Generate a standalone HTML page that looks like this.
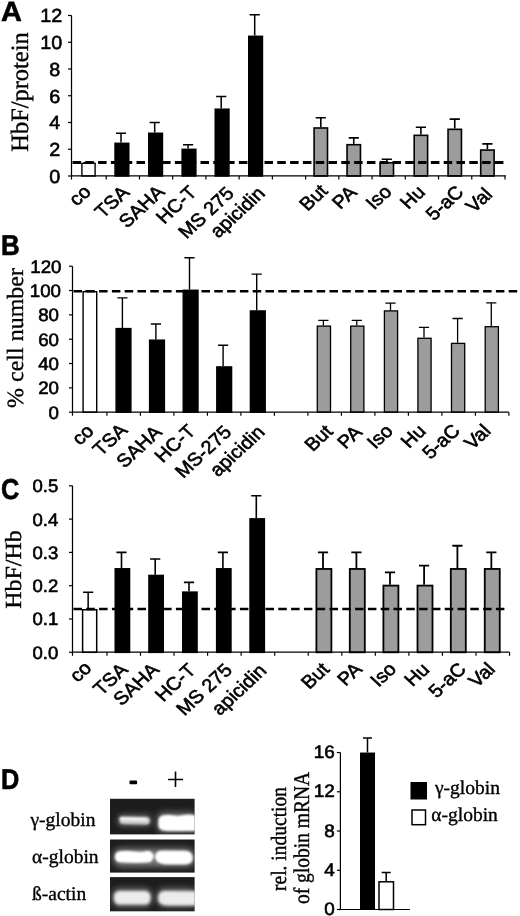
<!DOCTYPE html>
<html><head><meta charset="utf-8"><title>Figure</title>
<style>html,body{margin:0;padding:0;background:#fff}#fig{width:520px;height:916px;will-change:transform;overflow:hidden}svg{display:block;text-rendering:geometricPrecision;filter:blur(.4px)}text{stroke:#000;stroke-width:.6px}.f{stroke-width:.35px}.s{font-family:"Liberation Sans",sans-serif}.f{font-family:"Liberation Serif",serif}</style></head>
<body><div id="fig"><svg width="520" height="916" viewBox="0 0 520 916">
<rect width="520" height="916" fill="#fff"/>
<text transform="translate(1,21) scale(1.04,1)" class="s" font-weight="bold" font-size="27.8">A</text>
<text transform="translate(28.3,92) rotate(-90) scale(1,1.02)" text-anchor="middle" class="f" font-size="24.4">HbF/protein</text>
<path d="M88.50 162.62V162.62M83.40 162.62H93.60" stroke="#000" stroke-width="1.4" fill="none"/>
<rect x="81.90" y="163.32" width="13.20" height="12.68" fill="#fff" stroke="#000" stroke-width="1.4"/>
<path d="M121.00 142.56V133.20M115.90 133.20H126.10" stroke="#000" stroke-width="1.5" fill="none"/>
<rect x="115.05" y="143.31" width="13.70" height="32.69" fill="#000" stroke="#000" stroke-width="1.5"/>
<path d="M154.70 132.53V122.50M149.60 122.50H159.80" stroke="#000" stroke-width="1.5" fill="none"/>
<rect x="148.75" y="133.28" width="13.70" height="42.72" fill="#000" stroke="#000" stroke-width="1.5"/>
<path d="M188.10 148.58V144.84M183.00 144.84H193.20" stroke="#000" stroke-width="1.5" fill="none"/>
<rect x="182.15" y="149.33" width="13.70" height="26.67" fill="#000" stroke="#000" stroke-width="1.5"/>
<path d="M221.20 108.46V96.42M216.10 96.42H226.30" stroke="#000" stroke-width="1.5" fill="none"/>
<rect x="215.25" y="109.21" width="13.70" height="66.79" fill="#000" stroke="#000" stroke-width="1.5"/>
<path d="M254.70 35.56V14.83M249.60 14.83H259.80" stroke="#000" stroke-width="1.5" fill="none"/>
<rect x="248.75" y="36.31" width="13.70" height="139.69" fill="#000" stroke="#000" stroke-width="1.5"/>
<path d="M320.80 127.18V117.82M315.70 117.82H325.90" stroke="#000" stroke-width="1.6" fill="none"/>
<rect x="314.10" y="127.98" width="13.40" height="48.02" fill="#9c9c9c" stroke="#000" stroke-width="1.6"/>
<path d="M353.75 143.90V137.88M348.65 137.88H358.85" stroke="#000" stroke-width="1.6" fill="none"/>
<rect x="347.05" y="144.70" width="13.40" height="31.30" fill="#9c9c9c" stroke="#000" stroke-width="1.6"/>
<path d="M386.80 161.96V159.28M381.70 159.28H391.90" stroke="#000" stroke-width="1.6" fill="none"/>
<rect x="380.10" y="162.76" width="13.40" height="13.24" fill="#9c9c9c" stroke="#000" stroke-width="1.6"/>
<path d="M420.90 134.54V127.18M415.80 127.18H426.00" stroke="#000" stroke-width="1.6" fill="none"/>
<rect x="414.20" y="135.34" width="13.40" height="40.66" fill="#9c9c9c" stroke="#000" stroke-width="1.6"/>
<path d="M454.75 128.52V119.16M449.65 119.16H459.85" stroke="#000" stroke-width="1.6" fill="none"/>
<rect x="448.05" y="129.32" width="13.40" height="46.68" fill="#9c9c9c" stroke="#000" stroke-width="1.6"/>
<path d="M487.40 149.25V143.90M482.30 143.90H492.50" stroke="#000" stroke-width="1.6" fill="none"/>
<rect x="480.70" y="150.05" width="13.40" height="25.95" fill="#9c9c9c" stroke="#000" stroke-width="1.6"/>
<path d="M71.5 15.5V175.8H506" stroke="#000" stroke-width="1.25" fill="none"/>
<path d="M68.0 176.00H71.5" stroke="#000" stroke-width="1.2"/>
<text transform="translate(60.2,182.80) scale(1.04,1)" text-anchor="end" class="s" font-size="19">0</text>
<path d="M68.0 149.25H71.5" stroke="#000" stroke-width="1.2"/>
<text transform="translate(60.2,156.05) scale(1.04,1)" text-anchor="end" class="s" font-size="19">2</text>
<path d="M68.0 122.50H71.5" stroke="#000" stroke-width="1.2"/>
<text transform="translate(60.2,129.30) scale(1.04,1)" text-anchor="end" class="s" font-size="19">4</text>
<path d="M68.0 95.75H71.5" stroke="#000" stroke-width="1.2"/>
<text transform="translate(60.2,102.55) scale(1.04,1)" text-anchor="end" class="s" font-size="19">6</text>
<path d="M68.0 69.00H71.5" stroke="#000" stroke-width="1.2"/>
<text transform="translate(60.2,75.80) scale(1.04,1)" text-anchor="end" class="s" font-size="19">8</text>
<path d="M68.0 42.25H71.5" stroke="#000" stroke-width="1.2"/>
<text transform="translate(62.3,49.05) scale(1.04,1)" text-anchor="end" class="s" font-size="19">10</text>
<path d="M68.0 15.50H71.5" stroke="#000" stroke-width="1.2"/>
<text transform="translate(62.2,22.30) scale(1.04,1)" text-anchor="end" class="s" font-size="19">12</text>
<path d="M71.50 176V179.5" stroke="#000" stroke-width="1.2"/>
<path d="M106.23 176V179.5" stroke="#000" stroke-width="1.2"/>
<path d="M139.46 176V179.5" stroke="#000" stroke-width="1.2"/>
<path d="M172.69 176V179.5" stroke="#000" stroke-width="1.2"/>
<path d="M205.92 176V179.5" stroke="#000" stroke-width="1.2"/>
<path d="M239.15 176V179.5" stroke="#000" stroke-width="1.2"/>
<path d="M272.38 176V179.5" stroke="#000" stroke-width="1.2"/>
<path d="M305.61 176V179.5" stroke="#000" stroke-width="1.2"/>
<path d="M338.84 176V179.5" stroke="#000" stroke-width="1.2"/>
<path d="M372.07 176V179.5" stroke="#000" stroke-width="1.2"/>
<path d="M405.30 176V179.5" stroke="#000" stroke-width="1.2"/>
<path d="M438.53 176V179.5" stroke="#000" stroke-width="1.2"/>
<path d="M471.76 176V179.5" stroke="#000" stroke-width="1.2"/>
<path d="M504.99 176V179.5" stroke="#000" stroke-width="1.2"/>
<path d="M72.5 162.62H507" stroke="#000" stroke-width="3.0" stroke-dasharray="8.5 4.3" stroke-linecap="butt" fill="none"/>
<text transform="translate(92.00,193) scale(1.08,1) rotate(-45)" text-anchor="end" class="s" font-size="18.5">co</text>
<text transform="translate(130.40,193.5) scale(1.08,1) rotate(-45)" text-anchor="end" class="s" font-size="18.5">TSA</text>
<text transform="translate(165.60,193) scale(1.08,1) rotate(-45)" text-anchor="end" class="s" font-size="18.5">SAHA</text>
<text transform="translate(198.00,193.5) scale(1.08,1) rotate(-45)" text-anchor="end" class="s" font-size="18.5">HC-T</text>
<text transform="translate(235.10,194.5) scale(1.08,1) rotate(-45)" text-anchor="end" class="s" font-size="18.5">MS 275</text>
<text transform="translate(266.10,194.5) scale(1.08,1) rotate(-45)" text-anchor="end" class="s" font-size="18.5">apicidin</text>
<text transform="translate(328.80,192) scale(1.08,1) rotate(-45)" text-anchor="end" class="s" font-size="18.5">But</text>
<text transform="translate(358.00,193.5) scale(1.08,1) rotate(-45)" text-anchor="end" class="s" font-size="18.5">PA</text>
<text transform="translate(392.80,193) scale(1.08,1) rotate(-45)" text-anchor="end" class="s" font-size="18.5">Iso</text>
<text transform="translate(426.40,193.2) scale(1.08,1) rotate(-45)" text-anchor="end" class="s" font-size="18.5">Hu</text>
<text transform="translate(464.75,193.2) scale(1.08,1) rotate(-45)" text-anchor="end" class="s" font-size="18.5">5-aC</text>
<text transform="translate(493.40,195.5) scale(1.08,1) rotate(-45)" text-anchor="end" class="s" font-size="18.5">Val</text>
<text transform="translate(1,254.5) scale(0.9,1)" class="s" font-weight="bold" font-size="28.8">B</text>
<text transform="translate(23,338) rotate(-90) scale(1,0.97)" text-anchor="middle" class="f" font-size="24">% cell number</text>
<path d="M89.90 291.02V291.02M84.80 291.02H95.00" stroke="#000" stroke-width="1.4" fill="none"/>
<rect x="83.10" y="291.72" width="13.60" height="120.48" fill="#fff" stroke="#000" stroke-width="1.4"/>
<path d="M122.40 327.88V297.83M117.30 297.83H127.50" stroke="#000" stroke-width="1.4" fill="none"/>
<rect x="116.10" y="328.58" width="14.80" height="83.61" fill="#000" stroke="#000" stroke-width="1.4"/>
<path d="M155.90 339.44V323.99M150.80 323.99H161.00" stroke="#000" stroke-width="1.4" fill="none"/>
<rect x="149.60" y="340.14" width="14.80" height="72.06" fill="#000" stroke="#000" stroke-width="1.4"/>
<path d="M189.50 289.56V257.68M184.40 257.68H194.60" stroke="#000" stroke-width="1.4" fill="none"/>
<rect x="183.20" y="290.26" width="14.80" height="121.94" fill="#000" stroke="#000" stroke-width="1.4"/>
<path d="M223.10 366.21V345.28M218.00 345.28H228.20" stroke="#000" stroke-width="1.4" fill="none"/>
<rect x="216.80" y="366.91" width="14.80" height="45.29" fill="#000" stroke="#000" stroke-width="1.4"/>
<path d="M256.70 310.24V274.11M251.60 274.11H261.80" stroke="#000" stroke-width="1.4" fill="none"/>
<rect x="250.40" y="310.94" width="14.80" height="101.26" fill="#000" stroke="#000" stroke-width="1.4"/>
<path d="M323.40 325.45V320.34M318.30 320.34H328.50" stroke="#000" stroke-width="1.3" fill="none"/>
<rect x="317.30" y="326.10" width="13.20" height="86.10" fill="#9c9c9c" stroke="#000" stroke-width="1.3"/>
<path d="M356.80 325.45V320.34M351.70 320.34H361.90" stroke="#000" stroke-width="1.3" fill="none"/>
<rect x="350.70" y="326.10" width="13.20" height="86.10" fill="#9c9c9c" stroke="#000" stroke-width="1.3"/>
<path d="M390.50 310.24V303.06M385.40 303.06H395.60" stroke="#000" stroke-width="1.3" fill="none"/>
<rect x="384.40" y="310.89" width="13.20" height="101.31" fill="#9c9c9c" stroke="#000" stroke-width="1.3"/>
<path d="M424.00 337.62V327.40M418.90 327.40H429.10" stroke="#000" stroke-width="1.3" fill="none"/>
<rect x="417.90" y="338.27" width="13.20" height="73.93" fill="#9c9c9c" stroke="#000" stroke-width="1.3"/>
<path d="M457.60 342.73V318.52M452.50 318.52H462.70" stroke="#000" stroke-width="1.3" fill="none"/>
<rect x="451.50" y="343.38" width="13.20" height="68.82" fill="#9c9c9c" stroke="#000" stroke-width="1.3"/>
<path d="M491.30 326.06V302.94M486.20 302.94H496.40" stroke="#000" stroke-width="1.3" fill="none"/>
<rect x="485.20" y="326.71" width="13.20" height="85.49" fill="#9c9c9c" stroke="#000" stroke-width="1.3"/>
<path d="M72.5 266.2V412.0H508.75" stroke="#000" stroke-width="1.25" fill="none"/>
<path d="M69.0 412.20H72.5" stroke="#000" stroke-width="1.2"/>
<text transform="translate(59.0,418.64) scale(1.04,1)" text-anchor="end" class="s" font-size="18">0</text>
<path d="M69.0 387.87H72.5" stroke="#000" stroke-width="1.2"/>
<text transform="translate(59.0,394.31) scale(1.04,1)" text-anchor="end" class="s" font-size="18">20</text>
<path d="M69.0 363.53H72.5" stroke="#000" stroke-width="1.2"/>
<text transform="translate(59.0,369.98) scale(1.04,1)" text-anchor="end" class="s" font-size="18">40</text>
<path d="M69.0 339.20H72.5" stroke="#000" stroke-width="1.2"/>
<text transform="translate(59.0,345.64) scale(1.04,1)" text-anchor="end" class="s" font-size="18">60</text>
<path d="M69.0 314.87H72.5" stroke="#000" stroke-width="1.2"/>
<text transform="translate(59.0,321.31) scale(1.04,1)" text-anchor="end" class="s" font-size="18">80</text>
<path d="M69.0 290.53H72.5" stroke="#000" stroke-width="1.2"/>
<text transform="translate(61.0,296.98) scale(1.04,1)" text-anchor="end" class="s" font-size="18">100</text>
<path d="M69.0 266.20H72.5" stroke="#000" stroke-width="1.2"/>
<text transform="translate(61.5,272.64) scale(1.04,1)" text-anchor="end" class="s" font-size="18">120</text>
<path d="M72.50 412.2V415.7" stroke="#000" stroke-width="1.2"/>
<path d="M106.90 412.2V415.7" stroke="#000" stroke-width="1.2"/>
<path d="M140.40 412.2V415.7" stroke="#000" stroke-width="1.2"/>
<path d="M173.90 412.2V415.7" stroke="#000" stroke-width="1.2"/>
<path d="M207.40 412.2V415.7" stroke="#000" stroke-width="1.2"/>
<path d="M240.90 412.2V415.7" stroke="#000" stroke-width="1.2"/>
<path d="M274.40 412.2V415.7" stroke="#000" stroke-width="1.2"/>
<path d="M307.90 412.2V415.7" stroke="#000" stroke-width="1.2"/>
<path d="M341.40 412.2V415.7" stroke="#000" stroke-width="1.2"/>
<path d="M374.90 412.2V415.7" stroke="#000" stroke-width="1.2"/>
<path d="M408.40 412.2V415.7" stroke="#000" stroke-width="1.2"/>
<path d="M441.90 412.2V415.7" stroke="#000" stroke-width="1.2"/>
<path d="M475.40 412.2V415.7" stroke="#000" stroke-width="1.2"/>
<path d="M508.90 412.2V415.7" stroke="#000" stroke-width="1.2"/>
<path d="M73.5 291.26H520" stroke="#000" stroke-width="2.5" stroke-dasharray="8.5 4.3" stroke-linecap="butt" fill="none"/>
<text transform="translate(94.90,432.2) scale(1.08,1) rotate(-45)" text-anchor="end" class="s" font-size="18.5">co</text>
<text transform="translate(128.50,431.2) scale(1.08,1) rotate(-45)" text-anchor="end" class="s" font-size="18.5">TSA</text>
<text transform="translate(163.00,433.2) scale(1.08,1) rotate(-45)" text-anchor="end" class="s" font-size="18.5">SAHA</text>
<text transform="translate(196.60,432.2) scale(1.08,1) rotate(-45)" text-anchor="end" class="s" font-size="18.5">HC-T</text>
<text transform="translate(232.70,433.2) scale(1.08,1) rotate(-45)" text-anchor="end" class="s" font-size="18.5">MS-275</text>
<text transform="translate(265.80,433.2) scale(1.08,1) rotate(-45)" text-anchor="end" class="s" font-size="18.5">apicidin</text>
<text transform="translate(333.90,432.7) scale(1.08,1) rotate(-45)" text-anchor="end" class="s" font-size="18.5">But</text>
<text transform="translate(363.30,433.2) scale(1.08,1) rotate(-45)" text-anchor="end" class="s" font-size="18.5">PA</text>
<text transform="translate(394.00,432.2) scale(1.08,1) rotate(-45)" text-anchor="end" class="s" font-size="18.5">Iso</text>
<text transform="translate(427.00,432.2) scale(1.08,1) rotate(-45)" text-anchor="end" class="s" font-size="18.5">Hu</text>
<text transform="translate(461.10,431.7) scale(1.08,1) rotate(-45)" text-anchor="end" class="s" font-size="18.5">5-aC</text>
<text transform="translate(491.80,432.2) scale(1.08,1) rotate(-45)" text-anchor="end" class="s" font-size="18.5">Val</text>
<text transform="translate(1,498.5) scale(0.88,1)" class="s" font-weight="bold" font-size="28.8">C</text>
<text transform="translate(21.4,569.5) rotate(-90) scale(1,0.96)" text-anchor="middle" class="f" font-size="24">HbF/Hb</text>
<path d="M88.15 609.01V592.36M83.05 592.36H93.25" stroke="#000" stroke-width="1.5" fill="none"/>
<rect x="82.60" y="609.76" width="14.10" height="42.54" fill="#fff" stroke="#000" stroke-width="1.5"/>
<path d="M121.50 568.05V552.40M116.40 552.40H126.60" stroke="#000" stroke-width="1.6" fill="none"/>
<rect x="115.30" y="568.85" width="14.20" height="83.45" fill="#000" stroke="#000" stroke-width="1.6"/>
<path d="M155.20 574.71V559.06M150.10 559.06H160.30" stroke="#000" stroke-width="1.6" fill="none"/>
<rect x="149.00" y="575.51" width="14.20" height="76.79" fill="#000" stroke="#000" stroke-width="1.6"/>
<path d="M189.00 591.36V582.37M183.90 582.37H194.10" stroke="#000" stroke-width="1.6" fill="none"/>
<rect x="182.80" y="592.16" width="14.20" height="60.14" fill="#000" stroke="#000" stroke-width="1.6"/>
<path d="M222.90 568.05V552.40M217.80 552.40H228.00" stroke="#000" stroke-width="1.6" fill="none"/>
<rect x="216.70" y="568.85" width="14.20" height="83.45" fill="#000" stroke="#000" stroke-width="1.6"/>
<path d="M256.30 518.10V495.79M251.20 495.79H261.40" stroke="#000" stroke-width="1.6" fill="none"/>
<rect x="250.10" y="518.90" width="14.20" height="133.40" fill="#000" stroke="#000" stroke-width="1.6"/>
<path d="M323.00 568.05V552.40M317.90 552.40H328.10" stroke="#000" stroke-width="1.8" fill="none"/>
<rect x="316.40" y="568.95" width="15.00" height="83.35" fill="#9c9c9c" stroke="#000" stroke-width="1.8"/>
<path d="M356.40 568.05V552.40M351.30 552.40H361.50" stroke="#000" stroke-width="1.8" fill="none"/>
<rect x="349.80" y="568.95" width="15.00" height="83.35" fill="#9c9c9c" stroke="#000" stroke-width="1.8"/>
<path d="M390.00 584.70V572.38M384.90 572.38H395.10" stroke="#000" stroke-width="1.8" fill="none"/>
<rect x="383.40" y="585.60" width="15.00" height="66.70" fill="#9c9c9c" stroke="#000" stroke-width="1.8"/>
<path d="M424.10 584.70V565.72M419.00 565.72H429.20" stroke="#000" stroke-width="1.8" fill="none"/>
<rect x="417.50" y="585.60" width="15.00" height="66.70" fill="#9c9c9c" stroke="#000" stroke-width="1.8"/>
<path d="M457.40 568.05V545.74M452.30 545.74H462.50" stroke="#000" stroke-width="1.8" fill="none"/>
<rect x="450.80" y="568.95" width="15.00" height="83.35" fill="#9c9c9c" stroke="#000" stroke-width="1.8"/>
<path d="M491.35 568.05V552.40M486.25 552.40H496.45" stroke="#000" stroke-width="1.8" fill="none"/>
<rect x="484.75" y="568.95" width="15.00" height="83.35" fill="#9c9c9c" stroke="#000" stroke-width="1.8"/>
<path d="M72.5 485.8V652.0999999999999H509.5" stroke="#000" stroke-width="1.25" fill="none"/>
<path d="M69.0 652.30H72.5" stroke="#000" stroke-width="1.2"/>
<text transform="translate(58.3,658.74) scale(1.03,1)" text-anchor="end" class="s" font-size="18">0.0</text>
<path d="M69.0 619.00H72.5" stroke="#000" stroke-width="1.2"/>
<text transform="translate(58.3,625.44) scale(1.03,1)" text-anchor="end" class="s" font-size="18">0.1</text>
<path d="M69.0 585.70H72.5" stroke="#000" stroke-width="1.2"/>
<text transform="translate(58.3,592.14) scale(1.03,1)" text-anchor="end" class="s" font-size="18">0.2</text>
<path d="M69.0 552.40H72.5" stroke="#000" stroke-width="1.2"/>
<text transform="translate(58.3,558.84) scale(1.03,1)" text-anchor="end" class="s" font-size="18">0.3</text>
<path d="M69.0 519.10H72.5" stroke="#000" stroke-width="1.2"/>
<text transform="translate(58.3,525.54) scale(1.03,1)" text-anchor="end" class="s" font-size="18">0.4</text>
<path d="M69.0 485.80H72.5" stroke="#000" stroke-width="1.2"/>
<text transform="translate(58.3,492.24) scale(1.03,1)" text-anchor="end" class="s" font-size="18">0.5</text>
<path d="M72.50 652.3V655.8" stroke="#000" stroke-width="1.2"/>
<path d="M106.95 652.3V655.8" stroke="#000" stroke-width="1.2"/>
<path d="M140.50 652.3V655.8" stroke="#000" stroke-width="1.2"/>
<path d="M174.05 652.3V655.8" stroke="#000" stroke-width="1.2"/>
<path d="M207.60 652.3V655.8" stroke="#000" stroke-width="1.2"/>
<path d="M241.15 652.3V655.8" stroke="#000" stroke-width="1.2"/>
<path d="M274.70 652.3V655.8" stroke="#000" stroke-width="1.2"/>
<path d="M308.25 652.3V655.8" stroke="#000" stroke-width="1.2"/>
<path d="M341.80 652.3V655.8" stroke="#000" stroke-width="1.2"/>
<path d="M375.35 652.3V655.8" stroke="#000" stroke-width="1.2"/>
<path d="M408.90 652.3V655.8" stroke="#000" stroke-width="1.2"/>
<path d="M442.45 652.3V655.8" stroke="#000" stroke-width="1.2"/>
<path d="M476.00 652.3V655.8" stroke="#000" stroke-width="1.2"/>
<path d="M509.55 652.3V655.8" stroke="#000" stroke-width="1.2"/>
<path d="M73.5 609.01H506" stroke="#000" stroke-width="2.5" stroke-dasharray="8.5 4.3" stroke-linecap="butt" fill="none"/>
<text transform="translate(92.65,669.3) scale(1.08,1) rotate(-45)" text-anchor="end" class="s" font-size="18.5">co</text>
<text transform="translate(128.90,670.8) scale(1.08,1) rotate(-45)" text-anchor="end" class="s" font-size="18.5">TSA</text>
<text transform="translate(160.10,670.8) scale(1.08,1) rotate(-45)" text-anchor="end" class="s" font-size="18.5">SAHA</text>
<text transform="translate(196.90,671.3) scale(1.08,1) rotate(-45)" text-anchor="end" class="s" font-size="18.5">HC-T</text>
<text transform="translate(233.30,671.3) scale(1.08,1) rotate(-45)" text-anchor="end" class="s" font-size="18.5">MS 275</text>
<text transform="translate(267.70,671.8) scale(1.08,1) rotate(-45)" text-anchor="end" class="s" font-size="18.5">apicidin</text>
<text transform="translate(330.40,670.3) scale(1.08,1) rotate(-45)" text-anchor="end" class="s" font-size="18.5">But</text>
<text transform="translate(363.30,670.3) scale(1.08,1) rotate(-45)" text-anchor="end" class="s" font-size="18.5">PA</text>
<text transform="translate(397.40,670.3) scale(1.08,1) rotate(-45)" text-anchor="end" class="s" font-size="18.5">Iso</text>
<text transform="translate(430.50,670.5999999999999) scale(1.08,1) rotate(-45)" text-anchor="end" class="s" font-size="18.5">Hu</text>
<text transform="translate(467.30,670.3) scale(1.08,1) rotate(-45)" text-anchor="end" class="s" font-size="18.5">5-aC</text>
<text transform="translate(496.25,670.3) scale(1.08,1) rotate(-45)" text-anchor="end" class="s" font-size="18.5">Val</text>
<text transform="translate(1,789) scale(0.88,1)" class="s" font-weight="bold" font-size="28.8">D</text>
<rect x="129.5" y="780.6" width="7.6" height="3.6" rx="0.8" fill="#000"/>
<path d="M168 779.5H183M175.5 771.5V787" stroke="#000" stroke-width="1.6" fill="none"/>
<text x="30.5" y="826" class="f" font-size="19.5">γ-globin</text>
<text x="32" y="863" class="f" font-size="19.5">α-globin</text>
<text x="32" y="900" class="f" font-size="19.5">ß-actin</text>
<defs><filter id="bl" x="-10%" y="-40%" width="120%" height="180%"><feGaussianBlur stdDeviation="0.9"/></filter><filter id="bl2" x="-10%" y="-40%" width="120%" height="180%"><feGaussianBlur stdDeviation="1.5"/></filter><filter id="gl" x="-20%" y="-80%" width="140%" height="260%"><feGaussianBlur stdDeviation="3"/></filter><clipPath id="g1"><rect x="110" y="798.8" width="84.6" height="35.6"/></clipPath><clipPath id="g2"><rect x="110" y="839.5" width="84.6" height="33.1"/></clipPath><clipPath id="g3"><rect x="110" y="877.1" width="84.6" height="34.2"/></clipPath></defs>
<rect x="110" y="798.8" width="84.6" height="35.60" fill="#1d1d1d"/>
<rect x="110" y="839.5" width="84.6" height="33.10" fill="#1d1d1d"/>
<rect x="110" y="877.1" width="84.6" height="34.20" fill="#1d1d1d"/>
<g clip-path="url(#g1)">
<g filter="url(#gl)" opacity="0.35"><rect x="118" y="815" width="33" height="11" rx="4" fill="#fff"/><rect x="157" y="812" width="40" height="21" rx="6" fill="#fff"/></g>
<g filter="url(#bl)">
<path d="M119.5 818.2 Q119.3 816.6 121.5 816.5 L146 817 Q150 817.2 150 820.5 Q150 824.4 146 824.4 L124 824 Q119.6 823.8 119.5 821Z" fill="#cfcfcf"/>
<path d="M120.5 818.6 L146 819.4" stroke="#fff" stroke-width="2" stroke-linecap="round"/>
<path d="M158.3 822 Q158 816.5 163 815.3 Q168 814.2 173 815.3 Q178 816.4 183 815 Q189 813.8 196 815.5 L196 831 L168 831 Q161 830.8 159 828 Q158.2 826 158.3 822Z" fill="#fff"/>
</g></g>
<g clip-path="url(#g2)">
<g filter="url(#gl)" opacity="0.4"><rect x="113" y="848" width="82" height="19" rx="8" fill="#fff"/></g>
<g filter="url(#bl)">
<path d="M114.8 857 Q114.8 851.5 121 851 Q128 850.3 134 851.3 Q141 852.2 147 850.8 Q152 850.6 153.8 855.5 Q153.5 860 150 862.2 Q140 863.4 121 862.6 Q114.9 862 114.8 857Z" fill="#fff"/>
<path d="M155 856 Q156 850.6 163 850.6 L185 850.8 Q192.6 851.2 192.8 858 Q192.6 864.3 185 864.6 L166 864.4 Q158 864 155.8 860 Q155 858 155 856Z" fill="#fff"/>
</g></g>
<g clip-path="url(#g3)">
<g filter="url(#gl)" opacity="0.35"><rect x="112" y="888" width="40" height="19" rx="7" fill="#fff"/><rect x="157" y="888" width="40" height="19" rx="7" fill="#fff"/></g>
<g filter="url(#bl2)">
<rect x="114" y="891" width="36.5" height="13.6" rx="5.5" fill="#ececec"/>
<path d="M158.2 897 Q158.5 891 165 891 L197 891.2 L197 905.6 L166 905.4 Q158.4 905 158.2 899Z" fill="#ececec"/>
</g></g>
<path d="M367.5 752.54V738M363 738H372" stroke="#000" stroke-width="1.5" fill="none"/>
<rect x="360" y="752.54" width="15" height="156.96" fill="#000"/>
<path d="M386.2 881.05V872.5M381.7 872.5H390.7" stroke="#000" stroke-width="1.5" fill="none"/>
<rect x="379" y="881.80" width="14.5" height="27.70" fill="#fff" stroke="#000" stroke-width="1.5"/>
<path d="M340.4 752.54V909.5H410" stroke="#000" stroke-width="1.2" fill="none"/>
<path d="M336.9 909.50H340.4" stroke="#000" stroke-width="1.2"/>
<text transform="translate(334.7,915.10) scale(1.05,1)" text-anchor="end" class="s" font-size="18">0</text>
<path d="M336.9 870.26H340.4" stroke="#000" stroke-width="1.2"/>
<text transform="translate(334.7,875.86) scale(1.05,1)" text-anchor="end" class="s" font-size="18">4</text>
<path d="M336.9 831.02H340.4" stroke="#000" stroke-width="1.2"/>
<text transform="translate(334.7,836.62) scale(1.05,1)" text-anchor="end" class="s" font-size="18">8</text>
<path d="M336.9 791.78H340.4" stroke="#000" stroke-width="1.2"/>
<text transform="translate(334.7,797.38) scale(1.05,1)" text-anchor="end" class="s" font-size="18">12</text>
<path d="M336.9 752.54H340.4" stroke="#000" stroke-width="1.2"/>
<text transform="translate(334.7,758.14) scale(1.05,1)" text-anchor="end" class="s" font-size="18">16</text>
<text transform="translate(285.8,839) rotate(-90) scale(1,1.12)" text-anchor="middle" class="f" font-size="19.5">rel. induction</text>
<text transform="translate(309,838) rotate(-90) scale(1,1.15)" text-anchor="middle" class="f" font-size="19.5">of globin mRNA</text>
<rect x="410.5" y="782" width="16.5" height="17.5" fill="#000"/>
<rect x="412" y="810" width="13.5" height="14.7" fill="#fff" stroke="#000" stroke-width="1.5"/>
<text x="435" y="794.3" class="f" font-size="19.5">γ-globin</text>
<text x="431.3" y="821.3" class="f" font-size="19.5">α-globin</text>
</svg></div></body></html>
